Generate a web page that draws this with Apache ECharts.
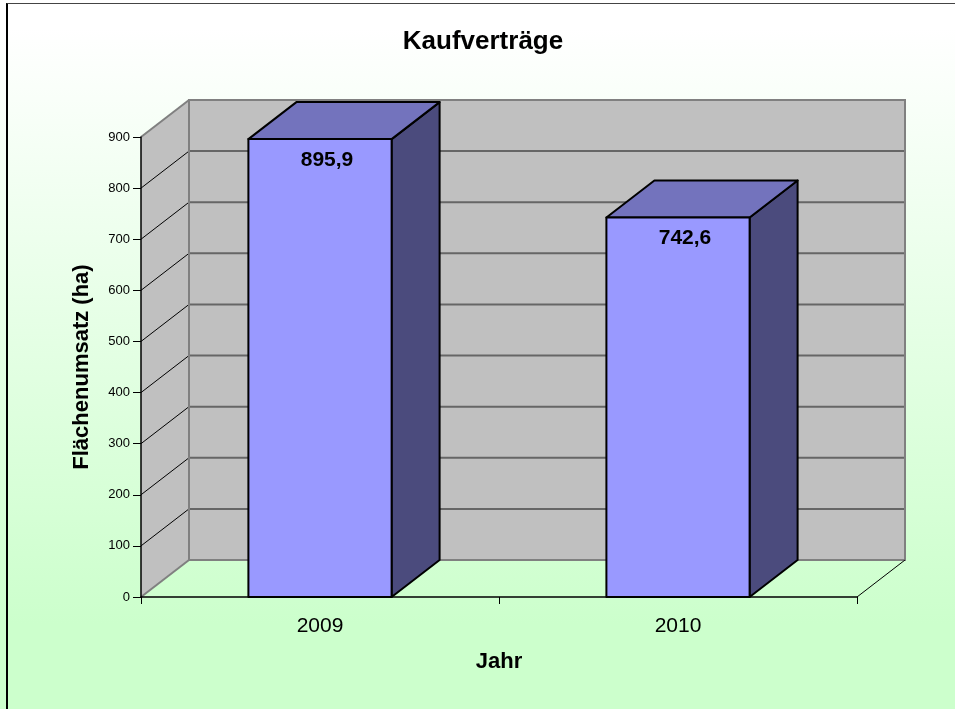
<!DOCTYPE html>
<html>
<head>
<meta charset="utf-8">
<script src="https://cdn.jsdelivr.net/npm/echarts@6/dist/echarts.min.js"></script>
<style>
  html, body { margin: 0; padding: 0; width: 955px; height: 709px; overflow: hidden; }
  body { background: linear-gradient(to bottom, #ffffff 4%, #ccffcc 88%); }
  #frame { position: absolute; left: 6px; top: 3px; width: 980px; height: 740px;
           border-left: 2px solid #000; border-top: 1px solid #444; box-sizing: border-box; }
  #chart { position: absolute; left: 0; top: 0; width: 955px; height: 709px; }
</style>
</head>
<body>
<div id="frame"></div>
<div id="chart"></div>
<script>
// ---- data ----
var categories = ['2009', '2010'];
var values = [895.9, 742.6];
var yTicks = [0, 100, 200, 300, 400, 500, 600, 700, 800, 900];

var DX = 48, DY = -37;   // 3D depth offset (style)
var FONT = '"Liberation Sans", Arial, sans-serif';

var chart = echarts.init(document.getElementById('chart'), null, { renderer: 'canvas' });

function renderWalls(params, api) {
  var cs = params.coordSys;
  var L = cs.x, R = cs.x + cs.width;
  var yB = api.coord([0, yTicks[0]])[1];
  var yT = api.coord([0, yTicks[yTicks.length - 1]])[1];
  var children = [];
  children.push({ type: 'polygon', shape: { points: [[L, yB], [L + DX, yB + DY], [L + DX, yT + DY], [L, yT]] },
    style: { fill: '#c0c0c0', stroke: null } });
  children.push({ type: 'rect', shape: { x: L + DX, y: yT + DY, width: R - L, height: yB - yT },
    style: { fill: '#c0c0c0', stroke: null } });
  for (var i = 1; i < yTicks.length - 1; i++) {
    var y = api.coord([0, yTicks[i]])[1];
    children.push({ type: 'line', shape: { x1: L + DX, y1: y + DY, x2: R + DX, y2: y + DY },
      style: { stroke: '#666666', lineWidth: 2 } });
    children.push({ type: 'line', shape: { x1: L, y1: y, x2: L + DX, y2: y + DY },
      style: { stroke: '#000000', lineWidth: 1 } });
  }
  children.push({ type: 'rect', shape: { x: L + DX, y: yT + DY, width: R - L, height: yB - yT },
    style: { fill: null, stroke: '#808080', lineWidth: 2 } });
  children.push({ type: 'polyline', shape: { points: [[L, yT], [L + DX, yT + DY]] },
    style: { fill: null, stroke: '#808080', lineWidth: 2 } });
  children.push({ type: 'polyline', shape: { points: [[L, yB], [L + DX, yB + DY]] },
    style: { fill: null, stroke: '#808080', lineWidth: 2 } });
  children.push({ type: 'line', shape: { x1: R, y1: yB, x2: R + DX, y2: yB + DY },
    style: { stroke: '#000000', lineWidth: 1 } });
  return { type: 'group', children: children };
}

function renderBar(params, api) {
  var idx = api.value(0), v = api.value(1);
  var top = api.coord([idx, v]);
  var base = api.coord([idx, 0]);
  var w = api.size([1, 0])[0] * 0.4;
  var x0 = top[0] - w / 2, x1 = top[0] + w / 2;
  var yt = top[1], yb = base[1];
  var stroke = { stroke: '#000000', lineWidth: 2, lineJoin: 'round' };
  return {
    type: 'group',
    children: [
      { type: 'polygon', shape: { points: [[x1, yt], [x1 + DX, yt + DY], [x1 + DX, yb + DY], [x1, yb]] },
        style: Object.assign({ fill: '#4b4b7d' }, stroke) },
      { type: 'polygon', shape: { points: [[x0, yt], [x0 + DX, yt + DY], [x1 + DX, yt + DY], [x1, yt]] },
        style: Object.assign({ fill: '#7373bd' }, stroke) },
      { type: 'rect', shape: { x: x0, y: yt, width: w, height: yb - yt },
        style: Object.assign({ fill: '#9999ff' }, stroke) },
      { type: 'text', x: top[0] + 7, y: yt + 21,
        style: { text: v.toFixed(1).replace('.', ','), fill: '#000', font: 'bold 21px ' + FONT,
                 align: 'center', verticalAlign: 'middle' } }
    ]
  };
}

var option = {
  backgroundColor: 'transparent',
  animation: false,
  title: {
    text: 'Kaufverträge', left: 483, top: 29, textAlign: 'center', padding: 0,
    textStyle: { fontFamily: FONT, fontSize: 26, fontWeight: 'bold', color: '#000' }
  },
  grid: { left: 141, right: 98, top: 137, bottom: 112, containLabel: false },
  xAxis: {
    type: 'category', data: categories, boundaryGap: true, z: 5,
    name: 'Jahr', nameLocation: 'middle', nameGap: 54,
    nameTextStyle: { fontFamily: FONT, fontSize: 22, fontWeight: 'bold', color: '#000' },
    axisLine: { lineStyle: { color: '#000', width: 1.5 } },
    axisTick: { show: true, length: 7, lineStyle: { color: '#000' } },
    axisLabel: { fontFamily: FONT, fontSize: 21, color: '#000', margin: 19 },
    splitLine: { show: false }
  },
  yAxis: {
    type: 'value', min: 0, max: 900, interval: 100, z: 5,
    name: 'Flächenumsatz (ha)', nameLocation: 'middle', nameGap: 48, nameRotate: 90,
    nameTextStyle: { fontFamily: FONT, fontSize: 22, fontWeight: 'bold', color: '#000' },
    axisLine: { show: true, lineStyle: { color: '#000', width: 1.5 } },
    axisTick: { show: true, length: 8, lineStyle: { color: '#000' } },
    axisLabel: { fontFamily: FONT, fontSize: 13, color: '#000', margin: 11 },
    splitLine: { show: false }
  },
  series: [
    { type: 'custom', renderItem: renderWalls, data: [[0, 0]], silent: true, z: 1, clip: false },
    { type: 'custom', renderItem: renderBar, z: 2, clip: false,
      data: values.map(function (v, i) { return [i, v]; }) }
  ]
};
chart.setOption(option);
</script>
</body>
</html>
